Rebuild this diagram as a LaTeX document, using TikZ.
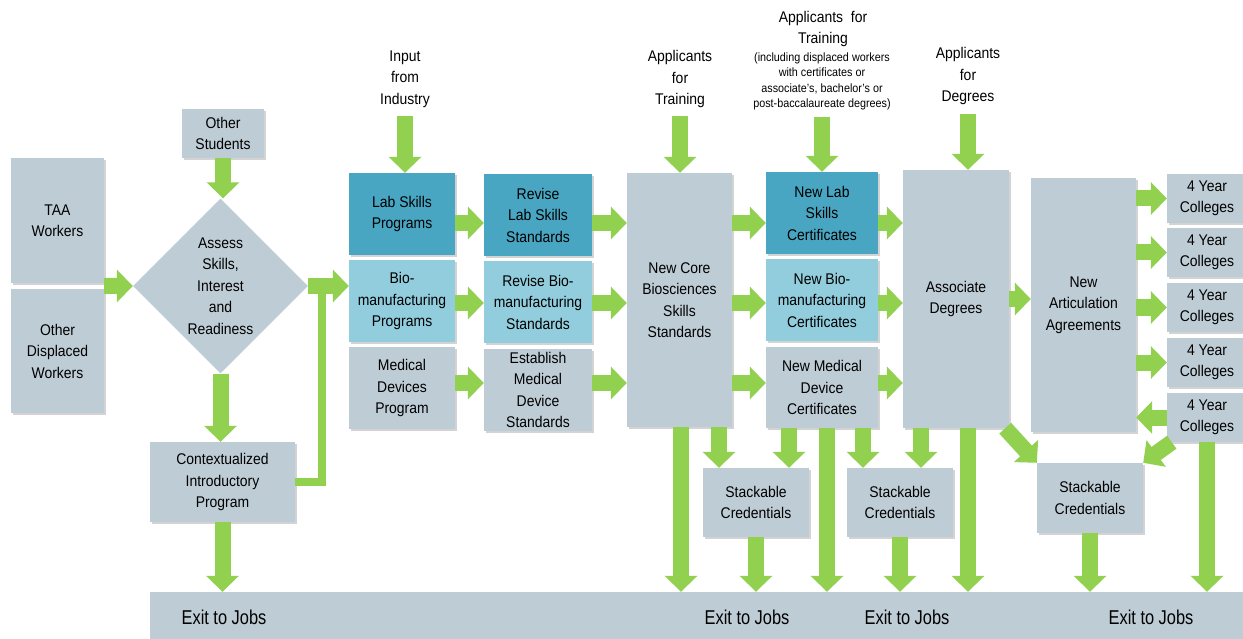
\documentclass[tikz,border=0pt]{standalone}
\usepackage{fontspec}
\setmainfont{Liberation Sans}[FakeStretch=0.9]
\newfontfamily\exitfamily{Liberation Sans}[FakeStretch=0.82]
\usetikzlibrary{shapes.geometric,arrows.meta,shadows,calc}

\definecolor{boxgray}{RGB}{190,204,213}
\definecolor{labteal}{RGB}{72,166,195}
\definecolor{bioblue}{RGB}{146,205,221}
\definecolor{flowgreen}{RGB}{146,208,80}

\newcommand{\boxfont}{\fontsize{15.5}{21.5}\selectfont}
\newcommand{\notefont}{\fontsize{12}{15.5}\selectfont}
\newcommand{\exitfont}{\exitfamily\fontsize{20}{22}\selectfont}

\begin{document}
\begin{tikzpicture}[
                x=1pt, y=-1pt,
                every node/.style={font=\boxfont, align=center, inner sep=0pt},
                dims/.style 2 args={minimum width=#1, minimum height=#2},
                box/.style={rectangle, fill=boxgray, drop shadow={shadow xshift=1.5pt, shadow yshift=-2pt, fill=black!50, opacity=0.35}},
                labbox/.style={box, fill=labteal},
                biobox/.style={box, fill=bioblue},
                decide/.style={diamond, fill=boxgray, minimum width=175pt, minimum height=175pt},
                flow/.style={draw=flowgreen, line width=16pt, -{Triangle[length=16pt,width=32pt]}},
                link/.style={draw=flowgreen, line width=8pt},
            ]

            \useasboundingbox (0,0) rectangle (1243,639);

            % Define nodes
            \node[box, dims={93}{125}] (taa) at (57.5,220.5) {TAA\\Workers};
            \node[box, dims={93}{124}] (odw) at (57.5,351) {Other\\Displaced\\Workers};
            \node[box, dims={82}{49}] (stud) at (223,133.5) {Other\\Students};
            \node[decide] (assess) at (220.5,286) {Assess\\Skills,\\Interest\\and\\Readiness};
            \node[box, dims={145}{80}] (ctx) at (222.5,482) {Contextualized\\Introductory\\Program};

            \node (indust) at (405,79) {Input\\from\\Industry};
            \node[labbox, dims={106}{82}] (labprog) at (402,214) {Lab Skills\\Programs};
            \node[biobox, dims={106}{82}] (bioprog) at (402,301) {Bio-\\manufacturing\\Programs};
            \node[box, dims={106}{82}] (medprog) at (402,388) {Medical\\Devices\\Program};

            \node[labbox, dims={108}{82}] (labstd) at (538,215) {Revise\\Lab Skills\\Standards};
            \node[biobox, dims={108}{82}] (biostd) at (538,302) {Revise Bio-\\manufacturing\\Standards};
            \node[box, dims={108}{82}] (medstd) at (538,390) {Establish\\Medical\\Device\\Standards};

            \node (apptrain) at (680,79) {Applicants\\for\\Training};
            \node[box, dims={105}{254}] (core) at (679.5,300) {New Core\\Biosciences\\Skills\\Standards};

            \node (apphead) at (823,29) {Applicants\ \ for\\Training};
            \node[font=\notefont] (appnote) at (822,81.5) {(including displaced workers\\with certificates or\\associate's, bachelor's or\\post-baccalaureate degrees)};
            \node[labbox, dims={112}{82}] (labcert) at (822,213) {New Lab\\Skills\\Certificates};
            \node[biobox, dims={112}{82}] (biocert) at (822,300) {New Bio-\\manufacturing\\Certificates};
            \node[box, dims={112}{81}] (medcert) at (822,387.5) {New Medical\\Device\\Certificates};

            \node (appdeg) at (968,76) {Applicants\\for\\Degrees};
            \node[box, dims={106}{258}] (assoc) at (956,299) {Associate\\Degrees};
            \node[box, dims={105}{254}] (artic) at (1083.5,305) {New\\Articulation\\Agreements};

            \node[box, dims={80}{49}] (col1) at (1207,198.5) {4 Year\\Colleges};
            \node[box, dims={80}{49}] (col2) at (1207,252.5) {4 Year\\Colleges};
            \node[box, dims={80}{49}] (col3) at (1207,307.5) {4 Year\\Colleges};
            \node[box, dims={80}{49}] (col4) at (1207,362.5) {4 Year\\Colleges};
            \node[box, dims={80}{49}] (col5) at (1207,417.5) {4 Year\\Colleges};

            \node[box, dims={106}{69}] (stack1) at (756,502.5) {Stackable\\Credentials};
            \node[box, dims={106}{69}] (stack2) at (900,502.5) {Stackable\\Credentials};
            \node[box, dims={106}{70}] (stack3) at (1090,498) {Stackable\\Credentials};

            \node[fill=boxgray, dims={1100}{54}] (exitbar) at (700,619) {};
            \node[font=\exitfont] (exit1) at (224,617) {Exit to Jobs};
            \node[font=\exitfont] (exit2) at (747,617) {Exit to Jobs};
            \node[font=\exitfont] (exit3) at (907,617) {Exit to Jobs};
            \node[font=\exitfont] (exit4) at (1151,617) {Exit to Jobs};

            % Rows of the horizontal arrows
            \coordinate (r1) at (0,223);
            \coordinate (r2) at (0,303);
            \coordinate (r3) at (0,383);
            \coordinate (jn) at (322,291);

            % Draw connections
            \draw[flow] ($(taa.south east)!0.5!(odw.north east)$) -- (assess.west);
            \draw[flow] (stud.south) -- (stud.south |- assess.north);
            \draw[flow] (assess.south) -- (assess.south |- ctx.north);
            \draw[flow] (ctx.south) -- (ctx.south |- exitbar.north);
            \draw[flow] (assess.east) -- (assess.east -| bioprog.west);
            \draw[link] (ctx.east) -| (jn);

            \draw[flow, shorten <=8pt] (indust.south) -- (indust.south |- labprog.north);
            \draw[flow, shorten <=8pt] (apptrain.south) -- (apptrain.south |- core.north);
            \draw[flow, shorten <=6pt] (appnote.south) -- (appnote.south |- labcert.north);
            \draw[flow, shorten <=9pt] (appdeg.south) -- (appdeg.south |- assoc.north);

            \draw[flow] (labprog.east |- r1) -- (labstd.west |- r1);
            \draw[flow] (bioprog.east |- r2) -- (biostd.west |- r2);
            \draw[flow] (medprog.east |- r3) -- (medstd.west |- r3);
            \draw[flow] (labstd.east |- r1) -- (core.west |- r1);
            \draw[flow] (biostd.east |- r2) -- (core.west |- r2);
            \draw[flow] (medstd.east |- r3) -- (core.west |- r3);
            \draw[flow] (core.east |- r1) -- (labcert.west |- r1);
            \draw[flow] (core.east |- r2) -- (biocert.west |- r2);
            \draw[flow] (core.east |- r3) -- (medcert.west |- r3);
            \draw[flow] (labcert.east |- r1) -- (assoc.west |- r1);
            \draw[flow] (biocert.east |- r2) -- (assoc.west |- r2);
            \draw[flow] (medcert.east |- r3) -- (assoc.west |- r3);

            \draw[flow] (assoc.east) -- (assoc.east -| artic.west);
            \draw[flow] (artic.east |- col1) -- (col1.west);
            \draw[flow] (artic.east |- col2) -- (col2.west);
            \draw[flow] (artic.east |- col3) -- (col3.west);
            \draw[flow] (artic.east |- col4) -- (col4.west);
            \draw[flow] (col5.west) -- (col5.west -| artic.east);

            \draw[flow] ([xshift=1.5pt]core.south) -- ([xshift=1.5pt]core.south |- exitbar.north);
            \draw[flow] ([xshift=39.5pt]core.south) -- ([xshift=39.5pt]core.south |- stack1.north);
            \draw[flow] ([xshift=-33pt]medcert.south) -- ([xshift=-33pt]medcert.south |- stack1.north);
            \draw[flow] ([xshift=5pt]medcert.south) -- ([xshift=5pt]medcert.south |- exitbar.north);
            \draw[flow] ([xshift=41pt]medcert.south) -- ([xshift=41pt]medcert.south |- stack2.north);
            \draw[flow] ([xshift=-35pt]assoc.south) -- ([xshift=-35pt]assoc.south |- stack2.north);
            \draw[flow] ([xshift=12pt]assoc.south) -- ([xshift=12pt]assoc.south |- exitbar.north);
            \draw[flow] ([xshift=-4pt]assoc.south east) -- (stack3.north west);
            \draw[flow] ([xshift=5pt]col5.south west) -- (stack3.north east);
            \draw[flow] (col5.south) -- (col5.south |- exitbar.north);

            \draw[flow] (stack1.south) -- (stack1.south |- exitbar.north);
            \draw[flow] (stack2.south) -- (stack2.south |- exitbar.north);
            \draw[flow] (stack3.south) -- (stack3.south |- exitbar.north);

            \end{tikzpicture}
\end{document}
